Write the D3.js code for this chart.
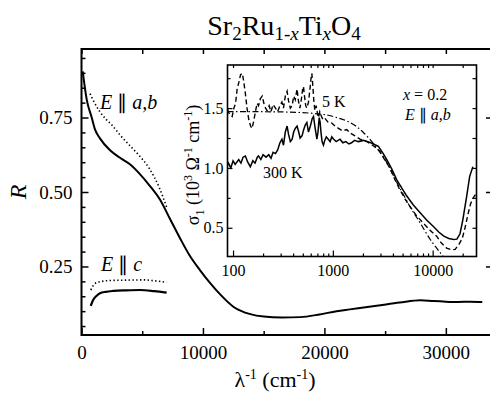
<!DOCTYPE html>
<html>
<head>
<meta charset="utf-8">
<script src="https://cdn.jsdelivr.net/npm/d3@7"></script>
<style>
body{margin:0;background:#fff;}
svg, svg text{font-family:"Liberation Serif","Times New Roman",Times,serif !important;}
</style>
</head>
<body>
<svg id="chart"></svg>
<script>
const width=490;
const height=393;

// main panel: reflectivity R vs wavenumber (cm^-1)
const abSolid=[[100,0.905],[430,0.81],[840,0.75],[1110,0.71],[1520,0.68],[2350,0.64],[3170,0.615],[3990,0.593],[4810,0.56],[5640,0.52],[6460,0.475],[7280,0.41],[8110,0.345],[8930,0.285],[9750,0.238],[10580,0.195],[11400,0.157],[12500,0.115],[13900,0.09],[15000,0.082],[16500,0.079],[18000,0.080],[19600,0.089],[21000,0.100],[22100,0.106],[24300,0.118],[26200,0.129],[27900,0.137],[29000,0.134],[30000,0.132],[31000,0.131],[32000,0.132],[33000,0.131]];
const abDotted=[[700,0.83],[1000,0.805],[1500,0.77],[2000,0.745],[2500,0.725],[3200,0.69],[4000,0.655],[4800,0.62],[5600,0.578],[6400,0.515],[7000,0.45]];
const cSolid=[[760,0.118],[970,0.138],[1250,0.152],[1520,0.160],[2000,0.165],[2620,0.168],[3700,0.170],[4810,0.171],[6000,0.167],[7010,0.162]];
const cDotted=[[760,0.171],[1000,0.188],[1250,0.196],[1700,0.200],[2350,0.203],[3500,0.204],[5090,0.205],[6200,0.201],[7010,0.197]];
const mainXTicks=[0,10000,20000,30000];
const mainXMinor=[5000,15000,25000];
const mainYTicks=[0.25,0.50,0.75];

// inset: sigma_1 (10^3 Ohm^-1 cm^-1) vs wavenumber, log axis
const k300=[[88,1.02],[90,1.04],[95,1.0],[100,1.06],[105,1.03],[114,1.07],[120,1.04],[126,1.09],[133,1.10],[140,1.05],[149,1.01],[158,1.06],[166,1.04],[175,1.09],[180,1.10],[190,1.07],[200,1.11],[214,1.09],[228,1.11],[240,1.08],[252,1.13],[266,1.12],[280,1.15],[295,1.21],[309,1.24],[320,1.19],[334,1.30],[348,1.35],[360,1.28],[375,1.22],[391,1.24],[405,1.30],[420,1.33],[438,1.35],[455,1.30],[470,1.25],[492,1.27],[510,1.32],[530,1.36],[549,1.38],[570,1.30],[600,1.36],[620,1.41],[640,1.43],[660,1.35],[680,1.28],[692,1.24],[710,1.30],[730,1.42],[746,1.38],[760,1.30],[780,1.22],[805,1.19],[830,1.23],[860,1.26],[900,1.24],[940,1.22],[976,1.26],[1020,1.24],[1080,1.22],[1180,1.24],[1260,1.21],[1350,1.22],[1450,1.20],[1540,1.21],[1650,1.23],[1800,1.22],[2020,1.23],[2400,1.21],[2860,1.18],[3200,1.12],[3470,1.07],[3900,0.99],[4370,0.90],[5000,0.82],[5510,0.765],[6400,0.69],[7500,0.625],[8700,0.565],[10180,0.51],[11500,0.465],[12950,0.43],[14500,0.41],[16300,0.403],[17500,0.405],[18800,0.45],[20000,0.56],[21900,0.76],[23500,0.93],[25300,1.01]];
const k5=[[88,1.49],[92,1.45],[98,1.43],[102,1.50],[106,1.54],[110,1.66],[114,1.71],[119,1.78],[124,1.79],[128,1.72],[133,1.62],[138,1.50],[144,1.40],[150,1.35],[155,1.33],[160,1.38],[166,1.45],[174,1.54],[180,1.52],[188,1.58],[196,1.60],[205,1.53],[212,1.50],[219,1.48],[230,1.52],[240,1.47],[252,1.53],[266,1.50],[280,1.47],[295,1.52],[309,1.55],[320,1.50],[334,1.60],[348,1.64],[360,1.56],[375,1.50],[391,1.52],[405,1.60],[420,1.57],[438,1.66],[452,1.56],[468,1.50],[485,1.58],[500,1.67],[508,1.68],[520,1.60],[535,1.52],[549,1.50],[570,1.55],[590,1.66],[605,1.75],[616,1.79],[628,1.70],[645,1.56],[660,1.48],[680,1.52],[700,1.46],[716,1.42],[740,1.47],[770,1.43],[800,1.40],[840,1.41],[900,1.38],[976,1.375],[1050,1.35],[1140,1.33],[1250,1.31],[1380,1.32],[1500,1.29],[1650,1.27],[1870,1.24],[2200,1.22],[2600,1.18],[2960,1.14],[3300,1.07],[3720,1.00],[4200,0.90],[4680,0.82],[5300,0.74],[5890,0.68],[6900,0.60],[8040,0.54],[9400,0.48],[10960,0.43],[12300,0.37],[13800,0.33],[15500,0.315],[16800,0.32],[18300,0.36],[19800,0.41],[21100,0.50],[22700,0.62],[24000,0.70],[25500,0.75],[27000,0.78]];
const fit=[[88,1.47],[150,1.47],[300,1.468],[500,1.462],[700,1.452],[900,1.44],[1100,1.42],[1400,1.39],[1700,1.35],[2000,1.30],[2400,1.23],[2800,1.16],[3500,1.04],[4400,0.875],[5000,0.79],[5900,0.68],[7500,0.54],[9500,0.40],[11200,0.32],[13000,0.25],[14000,0.21]];
const insetXTicks=[100,1000,10000];
const insetYTicks=[0.5,1.0,1.5];

const FONT='"Liberation Serif","Times New Roman",Times,serif';
const svg=d3.select('#chart').attr('width',width).attr('height',height).style('font-family',FONT);

const x=d3.scaleLinear().domain([0,33800]).range([81.5,492]);
const y=d3.scaleLinear().domain([0.02,0.98]).range([335,49]);

const defs=svg.append('defs');
defs.append('clipPath').attr('id','clipMain').append('rect')
  .attr('x',x.range()[0]).attr('y',y.range()[1])
  .attr('width',x.range()[1]-x.range()[0]).attr('height',y.range()[0]-y.range()[1]);

// main axes, ticks pointing inward
function noDomain(g){g.select('.domain').remove();g.attr('font-family',null);}
svg.append('g').attr('transform','translate(0,335)')
  .call(d3.axisBottom(x).tickValues(mainXTicks).tickSize(-7).tickPadding(11).tickFormat(d3.format('d')))
  .call(noDomain);
svg.append('g').attr('transform','translate(0,335)')
  .call(d3.axisBottom(x).tickValues(mainXMinor).tickSize(-4).tickFormat(''))
  .call(noDomain);
svg.append('g').attr('transform','translate(0,49)')
  .call(d3.axisTop(x).tickValues(mainXTicks.concat(mainXMinor)).tickSize(-5).tickFormat(''))
  .call(noDomain);
svg.append('g').attr('transform','translate(81.5,0)')
  .call(d3.axisLeft(y).tickValues(mainYTicks).tickSize(-7).tickPadding(9).tickFormat(d3.format('.2f')))
  .call(noDomain);
svg.append('g').attr('transform','translate(81.5,0)')
  .call(d3.axisLeft(y).tickValues(d3.range(0.05,0.96,0.05).filter(v=>Math.abs(v*4-Math.round(v*4))>0.01)).tickSize(-4).tickFormat(''))
  .call(noDomain);
svg.append('g').attr('transform','translate(492,0)')
  .call(d3.axisRight(y).tickValues(mainYTicks).tickSize(-6).tickFormat(''))
  .call(noDomain);
svg.selectAll('.tick text').attr('font-size',19).style('font-family',FONT).attr('fill','#000');
svg.selectAll('.tick line').attr('stroke','#000').attr('stroke-width',1.5);

svg.append('rect').attr('x',81.5).attr('y',49).attr('width',492-81.5).attr('height',335-49)
  .attr('fill','none').attr('stroke','#000').attr('stroke-width',2);

const lineMain=d3.line().x(d=>x(d[0])).y(d=>y(d[1])).curve(d3.curveMonotoneX);
const gm=svg.append('g').attr('clip-path','url(#clipMain)');
gm.append('path').datum(abSolid).attr('d',lineMain).attr('fill','none').attr('stroke','#000').attr('stroke-width',2);
gm.append('path').datum(abDotted).attr('d',lineMain).attr('fill','none').attr('stroke','#000').attr('stroke-width',1.6).attr('stroke-dasharray','1.4,2.4');
gm.append('path').datum(cSolid).attr('d',lineMain).attr('fill','none').attr('stroke','#000').attr('stroke-width',2.2);
gm.append('path').datum(cDotted).attr('d',lineMain).attr('fill','none').attr('stroke','#000').attr('stroke-width',1.6).attr('stroke-dasharray','1.4,2.4');

// inset
const xi=d3.scaleLog().domain([88,27500]).range([227.5,476.5]);
const yi=d3.scaleLinear().domain([0.26,1.86]).range([256.5,65]);

svg.append('rect').attr('x',227.5).attr('y',65).attr('width',476.5-227.5).attr('height',256.5-65).attr('fill','#fff');
defs.append('clipPath').attr('id','clipInset').append('rect')
  .attr('x',227.5).attr('y',65).attr('width',476.5-227.5).attr('height',256.5-65);

const minorLog=[];
[100,1000,10000].forEach(b=>{for(let m=2;m<=9;m++){if(b*m<27500)minorLog.push(b*m);}});
const ig=svg.append('g').attr('class','inset');
ig.append('g').attr('transform','translate(0,256.5)')
  .call(d3.axisBottom(xi).tickValues(insetXTicks).tickSize(-6).tickPadding(8).tickFormat(d3.format('d')))
  .call(noDomain);
ig.append('g').attr('transform','translate(0,256.5)')
  .call(d3.axisBottom(xi).tickValues(minorLog).tickSize(-3).tickFormat(''))
  .call(noDomain);
ig.append('g').attr('transform','translate(0,65)')
  .call(d3.axisTop(xi).tickValues(insetXTicks.concat(minorLog)).tickSize(-3).tickFormat(''))
  .call(noDomain);
ig.append('g').attr('transform','translate(227.5,0)')
  .call(d3.axisLeft(yi).tickValues(insetYTicks).tickSize(-5).tickPadding(4).tickFormat(d3.format('.1f')))
  .call(noDomain);
ig.append('g').attr('transform','translate(227.5,0)')
  .call(d3.axisLeft(yi).tickValues([0.75,1.25,1.75]).tickSize(-3).tickFormat(''))
  .call(noDomain);
ig.append('g').attr('transform','translate(476.5,0)')
  .call(d3.axisRight(yi).tickValues([0.5,0.75,1.0,1.25,1.5,1.75]).tickSize(-4).tickFormat(''))
  .call(noDomain);
ig.selectAll('.tick text').attr('font-size',16).style('font-family',FONT).attr('fill','#000');
ig.selectAll('.tick line').attr('stroke','#000').attr('stroke-width',1.2);

const lineInset=d3.line().x(d=>xi(d[0])).y(d=>yi(d[1]));
const gi=svg.append('g').attr('clip-path','url(#clipInset)');
gi.append('path').datum(fit).attr('d',lineInset.curve(d3.curveMonotoneX)).attr('fill','none').attr('stroke','#000').attr('stroke-width',1.2).attr('stroke-dasharray','6,2.5,1.5,2.5');
lineInset.curve(d3.curveLinear);
gi.append('path').datum(k5).attr('d',lineInset).attr('fill','none').attr('stroke','#000').attr('stroke-width',1.4).attr('stroke-dasharray','5,3');
gi.append('path').datum(k300).attr('d',lineInset).attr('fill','none').attr('stroke','#000').attr('stroke-width',1.5);

svg.append('rect').attr('x',227.5).attr('y',65).attr('width',476.5-227.5).attr('height',256.5-65)
  .attr('fill','none').attr('stroke','#000').attr('stroke-width',1.6);

// texts
const title=svg.append('text').attr('x',284).attr('y',35).attr('text-anchor','middle').attr('font-size',28);
title.append('tspan').text('Sr');
title.append('tspan').attr('dy',5).attr('font-size',19).text('2');
title.append('tspan').attr('dy',-5).text('Ru');
title.append('tspan').attr('dy',5).attr('font-size',19).text('1-');
title.append('tspan').attr('font-size',19).attr('font-style','italic').text('x');
title.append('tspan').attr('dy',-5).text('Ti');
title.append('tspan').attr('dy',5).attr('font-size',19).attr('font-style','italic').text('x');
title.append('tspan').attr('dy',-5).text('O');
title.append('tspan').attr('dy',5).attr('font-size',19).text('4');

function eLabel(px,py,size,pol){
  const t=svg.append('text').attr('x',px).attr('y',py).attr('font-size',size);
  t.append('tspan').attr('font-style','italic').text('E');
  t.append('tspan').text(' \u2225 ');
  t.append('tspan').attr('font-style','italic').text(pol);
  return t;
}
eLabel(100,109,20,'a,b');
eLabel(101,271,20,'c');
eLabel(405,120,16,'a,b');

svg.append('text').attr('x',322).attr('y',107).attr('font-size',16).text('5 K');
svg.append('text').attr('x',263).attr('y',178).attr('font-size',16).text('300 K');
const xl=svg.append('text').attr('x',403).attr('y',100).attr('font-size',16);
xl.append('tspan').attr('font-style','italic').text('x');
xl.append('tspan').text(' = 0.2');

const xlab=svg.append('text').attr('x',275).attr('y',387).attr('text-anchor','middle').attr('font-size',22);
xlab.append('tspan').text('\u03bb');
xlab.append('tspan').attr('dy',-8).attr('font-size',14).text('-1');
xlab.append('tspan').attr('dy',8).text(' (cm');
xlab.append('tspan').attr('dy',-8).attr('font-size',14).text('-1');
xlab.append('tspan').attr('dy',8).text(')');

svg.append('text').attr('transform','translate(26,192) rotate(-90)').attr('text-anchor','middle')
  .attr('font-size',24).attr('font-style','italic').text('R');

const ylab=svg.append('text').attr('transform','translate(199,165) rotate(-90)').attr('text-anchor','middle').attr('font-size',18);
ylab.append('tspan').text('\u03c3');
ylab.append('tspan').attr('dy',5).attr('font-size',12).text('1');
ylab.append('tspan').attr('dy',-5).text(' (10');
ylab.append('tspan').attr('dy',-7).attr('font-size',12).text('3');
ylab.append('tspan').attr('dy',7).text(' \u03a9');
ylab.append('tspan').attr('dy',-7).attr('font-size',12).text('-1');
ylab.append('tspan').attr('dy',7).text(' cm');
ylab.append('tspan').attr('dy',-7).attr('font-size',12).text('-1');
ylab.append('tspan').attr('dy',7).text(')');
</script>
</body>
</html>
